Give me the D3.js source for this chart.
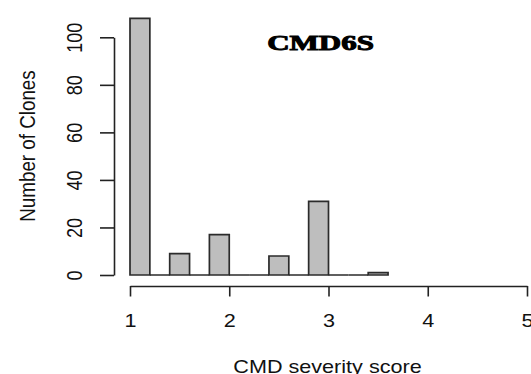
<!DOCTYPE html>
<html>
<head>
<meta charset="utf-8">
<script src="https://cdn.jsdelivr.net/npm/d3@7"></script>
<style>
  body { margin: 0; background: #fff; }
  svg { display: block; }
</style>
</head>
<body>
<div id="chart"></div>
<script>
// histogram data
var binEdges = [1.0, 1.2, 1.4, 1.6, 1.8, 2.0, 2.2, 2.4, 2.6, 2.8, 3.0, 3.2, 3.4, 3.6];
var counts = [108, 0, 9, 0, 17, 0, 0, 8, 0, 31, 0, 0, 1];
var xTicks = [1, 2, 3, 4, 5];
var yTicks = [0, 20, 40, 60, 80, 100];

var width = 531, height = 374;
var sx = 1.2; // picture is stretched sideways

var svg = d3.select("#chart")
    .append("svg")
    .attr("width", width)
    .attr("height", height);

var x = d3.scaleLinear().domain([1, 5]).range([130, 527]);
var y = d3.scaleLinear().domain([0, 100]).range([275, 37.3]);

// bars
var bins = counts.map(function(c, i) {
    return { x0: binEdges[i], x1: binEdges[i + 1], n: c };
});

svg.append("g")
    .selectAll("path")
    .data(bins)
    .enter()
    .append("path")
    .attr("d", function(d) {
        return "M" + x(d.x0) + "," + y(0) +
            "V" + y(d.n) + "H" + x(d.x1) + "V" + y(0) + "Z";
    })
    .attr("fill", "#bebebe")
    .attr("stroke", "#2b2b2b")
    .attr("stroke-width", 1.7);

// x axis
var xAxis = svg.append("g")
    .attr("transform", "translate(0,286)")
    .call(d3.axisBottom(x).tickValues(xTicks).tickSize(10.5).tickSizeOuter(0).tickFormat(d3.format("d")));
xAxis.select(".domain").attr("stroke", "#222").attr("stroke-width", 1.6);
xAxis.selectAll(".tick line").attr("stroke", "#222").attr("stroke-width", 1.6);
xAxis.selectAll(".tick text")
    .attr("y", 0).attr("dy", null)
    .attr("transform", "translate(0,41.3) scale(" + sx + ",1)")
    .style("font-family", "Liberation Sans, Arial, sans-serif")
    .style("font-size", "18px")
    .attr("fill", "#111");

// y axis
var yAxis = svg.append("g")
    .attr("transform", "translate(114,0)")
    .call(d3.axisLeft(y).tickValues(yTicks).tickSize(14).tickSizeOuter(0));
yAxis.select(".domain").attr("stroke", "#222").attr("stroke-width", 1.6);
yAxis.selectAll(".tick line").attr("stroke", "#222").attr("stroke-width", 1.6);
yAxis.selectAll(".tick text")
    .attr("x", 0).attr("dy", null)
    .attr("text-anchor", "middle")
    .attr("transform", "translate(-32.3,0) scale(" + sx + ",1) rotate(-90)")
    .style("font-family", "Liberation Sans, Arial, sans-serif")
    .style("font-size", "18px")
    .attr("fill", "#111");

// axis titles
svg.append("text")
    .attr("transform", "translate(327.5,372.7) scale(" + sx + ",1)")
    .attr("text-anchor", "middle")
    .style("font-family", "Liberation Sans, Arial, sans-serif")
    .style("font-size", "18px")
    .attr("fill", "#111")
    .text("CMD severity score");

svg.append("text")
    .attr("transform", "translate(35,146) scale(" + sx + ",1) rotate(-90)")
    .attr("text-anchor", "middle")
    .style("font-family", "Liberation Sans, Arial, sans-serif")
    .style("font-size", "18.8px")
    .attr("fill", "#111")
    .text("Number of Clones");

// panel label
svg.append("text")
    .attr("transform", "translate(320.5,50) scale(1.55,1)")
    .attr("text-anchor", "middle")
    .style("font-family", "Liberation Serif, Times New Roman, serif")
    .style("font-weight", "bold")
    .style("font-size", "20px")
    .attr("fill", "#000")
    .attr("stroke", "#000")
    .attr("stroke-width", 0.9)
    .text("CMD6S");
</script>
</body>
</html>
